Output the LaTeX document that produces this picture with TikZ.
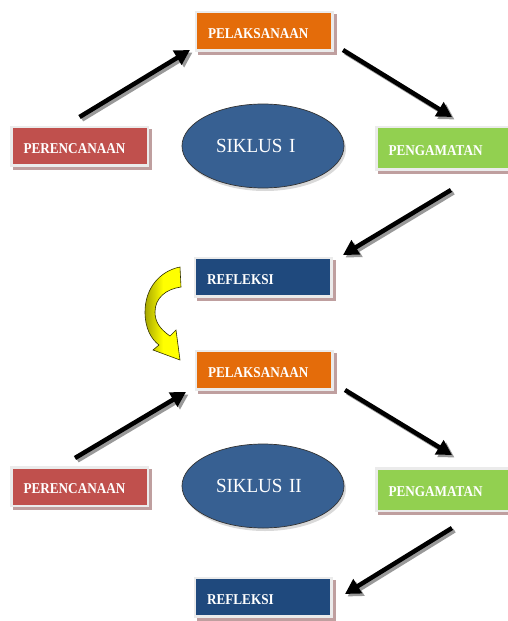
\documentclass[tikz,border=0pt]{standalone}
\usepackage{fontspec}
\setmainfont{Liberation Serif}
\newfontfamily\boxfont[FakeStretch=0.88]{Liberation Serif}
\newfontfamily\cyclefont[FakeStretch=0.95]{Liberation Serif}
\usetikzlibrary{arrows.meta,shadows,shapes.geometric}

\definecolor{pelorange}{HTML}{E46C0A}
\definecolor{perred}{HTML}{C0504D}
\definecolor{pengreen}{HTML}{92D050}
\definecolor{refblue}{HTML}{1F497D}
\definecolor{cycleblue}{HTML}{376092}
\definecolor{frameGray}{HTML}{EBEBEB}
\definecolor{shadowPink}{HTML}{BF9F9F}
\definecolor{curveYellow}{HTML}{FFFF00}
\definecolor{curveOlive}{HTML}{A6A600}

\tikzset{
  phase/.style={rectangle, fill=frameGray, outer sep=0pt,
    minimum width=139pt, minimum height=41pt,
    text width=112pt, inner xsep=13.5pt, align=left,
    text height=14.5pt, text depth=0pt, text=white,
    font=\boxfont\fontsize{15pt}{18pt}\selectfont\bfseries,
    drop shadow={shadow xshift=3pt, shadow yshift=-3pt, fill=shadowPink, opacity=1},
    path picture={\fill[#1] ([shift={(2.5pt,2.5pt)}]path picture bounding box.south west)
      rectangle ([shift={(-2.5pt,-2.5pt)}]path picture bounding box.north east);}},
  cycle/.style={ellipse, fill=cycleblue, draw=black!80, line width=0.7pt,
    minimum width=162pt, minimum height=84pt, inner sep=0pt,
    text width=94pt, align=left, text=white,
    font=\cyclefont\fontsize{20pt}{23pt}\selectfont,
    drop shadow={shadow xshift=2pt, shadow yshift=-3pt, opacity=0.3}},
  flow/.style={line width=4.5pt, -{Triangle[length=15pt,width=16pt]},
    preaction={draw=black!40, line width=4.5pt, -{Triangle[length=15pt,width=16pt]},
      transform canvas={xshift=2.5pt,yshift=-2.5pt}}}
}

\begin{document}
\begin{tikzpicture}[x=1pt,y=-1pt]
\useasboundingbox (0,0) rectangle (507,621);

% siklus I
\node[phase=pelorange] (pel1) at (264,31) {PELAKSANAAN};
\node[phase=perred] (per1) at (79.5,146) {PERENCANAAN};
\node[phase=pengreen, minimum height=45pt] (pen1) at (444.5,148) {PENGAMATAN};
\node[phase=refblue] (ref1) at (263,277) {REFLEKSI};
\node[cycle] (cyc1) at (263,146) {SIKLUS I};

% siklus II
\node[phase=pelorange] (pel2) at (264,370) {PELAKSANAAN};
\node[phase=perred] (per2) at (79.5,486.5) {PERENCANAAN};
\node[phase=pengreen, minimum height=45pt] (pen2) at (444.5,489.5) {PENGAMATAN};
\node[phase=refblue] (ref2) at (263,597) {REFLEKSI};
\node[cycle] (cyc2) at (263,486) {SIKLUS II};

% arrows of siklus I
\draw[flow] ([yshift=8.5pt]per1.north) -- ([xshift=-4.5pt,yshift=1.5pt]pel1.south west);
\draw[flow] ([xshift=9.5pt,yshift=1.5pt]pel1.south east) -- ([xshift=7.5pt,yshift=8.5pt]pen1.north);
\draw[flow] ([xshift=6.5pt,yshift=-19.5pt]pen1.south) -- ([xshift=10.5pt,yshift=1.5pt]ref1.north east);

% arrows of siklus II
\draw[flow] ([xshift=-4.5pt,yshift=8pt]per2.north) -- ([xshift=-8.5pt,yshift=-1.5pt]pel2.south west);
\draw[flow] ([xshift=11.5pt,yshift=0.5pt]pel2.south east) -- ([xshift=7.5pt,yshift=12pt]pen2.north);
\draw[flow] ([xshift=7.5pt,yshift=-16pt]pen2.south) -- ([xshift=12.5pt,yshift=-17.5pt]ref2.north east);

% curved arrow from refleksi to the next cycle
\draw[draw=black!70!curveOlive, line width=0.6pt, left color=curveOlive, right color=curveYellow, middle color=curveYellow]
  (180,267) .. controls (160,271) and (145,288) .. (145,312)
  .. controls (145,328) and (151,339) .. (159,345)
  -- (153,350) -- (180,360) -- (176,330) -- (170,336)
  .. controls (160,329) and (155,322) .. (155,312)
  .. controls (155,298) and (166,289) .. (181,287) -- cycle;

\end{tikzpicture}
\end{document}
